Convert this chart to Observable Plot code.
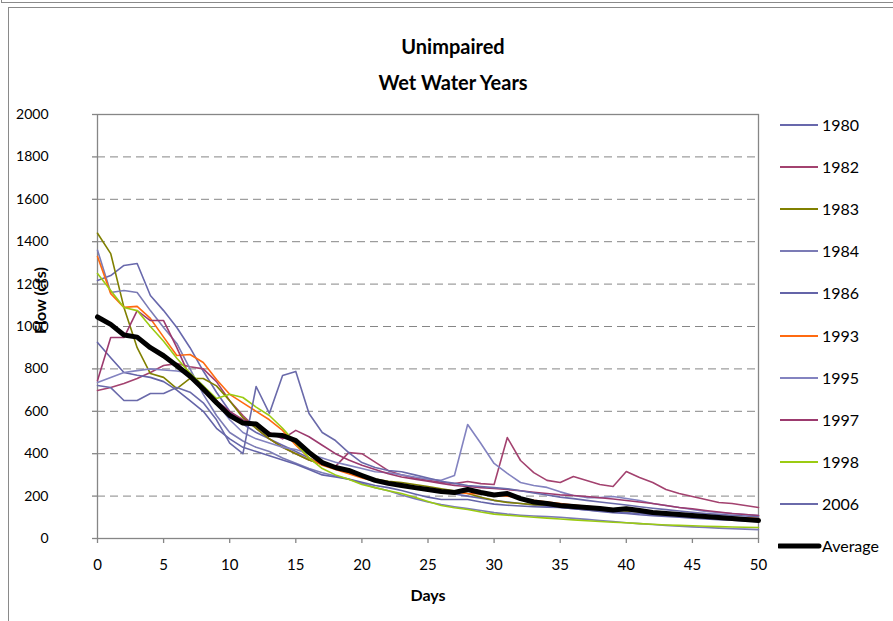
<!DOCTYPE html>
<html>
<head>
<meta charset="utf-8">
<script src="https://cdn.jsdelivr.net/npm/d3@7"></script>
<script src="https://cdn.jsdelivr.net/npm/@observablehq/plot@0.6"></script>
<style>
  html, body { margin: 0; padding: 0; background: #fff; overflow: hidden; }
  #wrap { position: relative; width: 893px; height: 621px; overflow: hidden; font-family: Lato, "Noto Sans", sans-serif; }
  .box { position: absolute; border: 1px solid #8a8a8a; }
  .title { position: absolute; left: 0; width: 906px; text-align: center; font-weight: bold; font-size: 20px; color: #000; }
  #chart { position: absolute; left: 0; top: 100px; }
  .leg { position: absolute; left: 778px; height: 20px; font-size: 16px; color: #000; }
  .leg svg { position: absolute; left: 0; top: 0; }
  .leg span { position: absolute; left: 44px; top: 0; line-height: 20px; white-space: nowrap; }
</style>
</head>
<body>
<div id="wrap">
  <div class="box" style="left:1px; top:-20px; width:2000px; height:21px;"></div>
  <div class="box" style="left:8px; top:7px; width:2000px; height:2000px;"></div>
  <div class="title" style="top:34px;">Unimpaired</div>
  <div class="title" style="top:70px;">Wet Water Years</div>
  <div id="chart"></div>
  <div id="legend"></div>
</div>
<script>
// ---- data ----
const days = d3.range(0, 51);
const years = ["1980", "1982", "1983", "1984", "1986", "1993", "1995", "1997", "1998", "2006"];
const colors = ["#6868AC", "#A3426F", "#808000", "#7B7BB5", "#6464A8", "#FF6A10", "#8383C0", "#9C3A6E", "#9BCB12", "#6A6AAA"];

const y1980 = [1217,1240,1288,1297,1146,1075,995,900,790,690,600,540,500,470,440,410,380,350,330,310,290,275,262,250,240,230,220,210,200,190,180,172,165,158,152,146,140,135,130,126,122,118,114,110,106,102,98,95,92,89,86];
const y1982 = [698,712,731,755,783,816,825,810,800,740,650,580,520,470,430,400,370,350,340,405,400,360,320,300,285,275,265,259,269,259,255,476,368,311,274,264,292,274,255,245,316,288,264,231,212,198,184,170,165,156,146];
const y1983 = [1440,1344,1090,900,778,760,707,755,755,720,650,570,520,470,430,400,370,350,330,310,295,280,270,264,255,245,235,225,212,195,180,170,165,160,158,156,150,145,140,135,130,126,122,118,114,110,106,103,100,97,95];
const y1984 = [1360,1160,1170,1160,1075,995,920,800,680,580,500,460,430,410,380,355,330,310,295,280,260,240,225,205,188,172,160,150,141,132,122,115,110,106,103,100,95,90,85,80,74,70,66,62,58,55,52,49,46,44,42];
const y1986 = [925,853,783,770,760,740,700,650,600,520,470,430,410,390,370,350,325,300,290,280,265,250,240,226,210,195,184,184,184,172,162,157,153,150,148,146,140,135,128,122,118,112,108,104,100,96,92,89,86,83,80];
const y1993 = [1330,1155,1090,1095,1038,950,863,868,830,750,680,640,600,560,510,440,380,345,325,305,285,270,260,250,240,232,225,218,212,210,205,200,190,180,172,165,158,152,146,140,135,130,125,120,115,110,106,102,99,97,95];
const y1995 = [736,760,783,792,800,795,790,780,720,640,560,500,470,450,430,420,400,380,360,345,330,315,310,300,290,280,275,297,538,448,354,307,264,250,241,220,203,193,193,198,189,179,165,156,146,137,127,123,118,113,108];
const y1997 = [745,948,948,1075,1028,1028,900,760,700,650,600,560,540,500,470,510,480,440,400,370,345,325,305,290,280,270,260,250,245,240,236,231,225,218,212,206,203,198,192,186,179,172,165,156,146,140,132,125,118,113,108];
const y1998 = [1250,1170,1090,1075,1000,930,850,780,720,660,680,665,620,580,520,450,380,330,300,280,255,240,225,212,195,175,156,145,137,125,115,110,105,100,96,92,88,84,80,77,74,70,67,64,62,60,58,56,54,53,52];
const y2006 = [722,712,651,651,684,684,712,690,640,560,450,400,717,590,769,788,590,500,462,405,358,335,321,315,300,285,270,260,250,245,240,235,225,215,205,195,188,180,172,165,158,150,143,136,130,124,118,114,110,106,102];
const yAverage = [1045,1010,960,950,900,862,815,765,705,640,580,545,540,490,486,462,406,358,335,321,297,274,260,250,240,231,222,217,231,217,205,212,188,172,165,156,151,146,141,134,140,132,123,118,113,108,104,99,94,90,85];

const yTicks = [0,200,400,600,800,1000,1200,1400,1600,1800,2000];
const xTicks = [0,5,10,15,20,25,30,35,40,45,50];

const seriesValues = [y1980, y1982, y1983, y1984, y1986, y1993, y1995, y1997, y1998, y2006];

// ---- build table ----
const rows = [];
years.forEach((yr, i) => {
  seriesValues[i].forEach((v, d) => rows.push({year: yr, day: days[d], flow: v}));
});
const avgRows = yAverage.map((v, d) => ({year: "Average", day: days[d], flow: v}));

const gray = "#868686";
const chart = Plot.plot({
  width: 893,
  height: 521,
  marginLeft: 97,
  marginRight: 135,
  marginTop: 14,
  marginBottom: 83,
  style: {fontFamily: "Lato, 'Noto Sans', sans-serif", fontSize: "15px", color: "#000", background: "transparent", overflow: "visible"},
  x: {domain: [0, 50]},
  y: {domain: [0, 2000]},
  color: {domain: years, range: colors},
  marks: [
    Plot.gridY(yTicks.filter(t => t > 0 && t < 2000), {stroke: gray, strokeOpacity: 1, strokeDasharray: "8,5", strokeWidth: 1}),
    Plot.frame({stroke: gray, strokeWidth: 1.3}),
    Plot.axisY(yTicks, {tickSize: 5, tickPadding: 44, stroke: gray, strokeWidth: 1.3, label: null, fontSize: 14, fill: "#000", tickFormat: d => String(d)}),
    Plot.axisX(xTicks, {tickSize: 5, tickPadding: 16, stroke: gray, strokeWidth: 1.3, label: null, fontSize: 15, fill: "#000", tickFormat: d => String(d)}),
    Plot.lineY(rows, {x: "day", y: "flow", z: "year", stroke: "year", strokeWidth: 1.6, curve: "linear"}),
    Plot.lineY(avgRows, {x: "day", y: "flow", stroke: "#000", strokeWidth: 5, strokeLinejoin: "round"}),
    Plot.text(["Days"], {frameAnchor: "bottom", dy: 62, fontWeight: "bold", fontSize: 16, fill: "#000"}),
    Plot.text(["Flow (cfs)"], {frameAnchor: "left", textAnchor: "middle", dx: -57, dy: -26, rotate: -90, fontWeight: "bold", fontSize: 16, fill: "#000"})
  ]
});
document.getElementById("chart").appendChild(chart);

// ---- legend ----
const legend = document.getElementById("legend");
const legYears = years.concat(["Average"]);
const legColors = colors.concat(["#000"]);
legYears.forEach((name, i) => {
  const top = 115 + i * 42.1;
  const el = document.createElement("div");
  el.className = "leg";
  el.style.top = top + "px";
  const w = name === "Average" ? 5 : 1.8;
  el.innerHTML = `<svg width="44" height="20"><line x1="${name === "Average" ? 1 : 2}" x2="${name === "Average" ? 41 : 40}" y1="10" y2="10" stroke="${legColors[i]}" stroke-width="${w}" stroke-linecap="${name === "Average" ? "round" : "butt"}"/></svg><span>${name}</span>`;
  legend.appendChild(el);
});
</script>
</body>
</html>
